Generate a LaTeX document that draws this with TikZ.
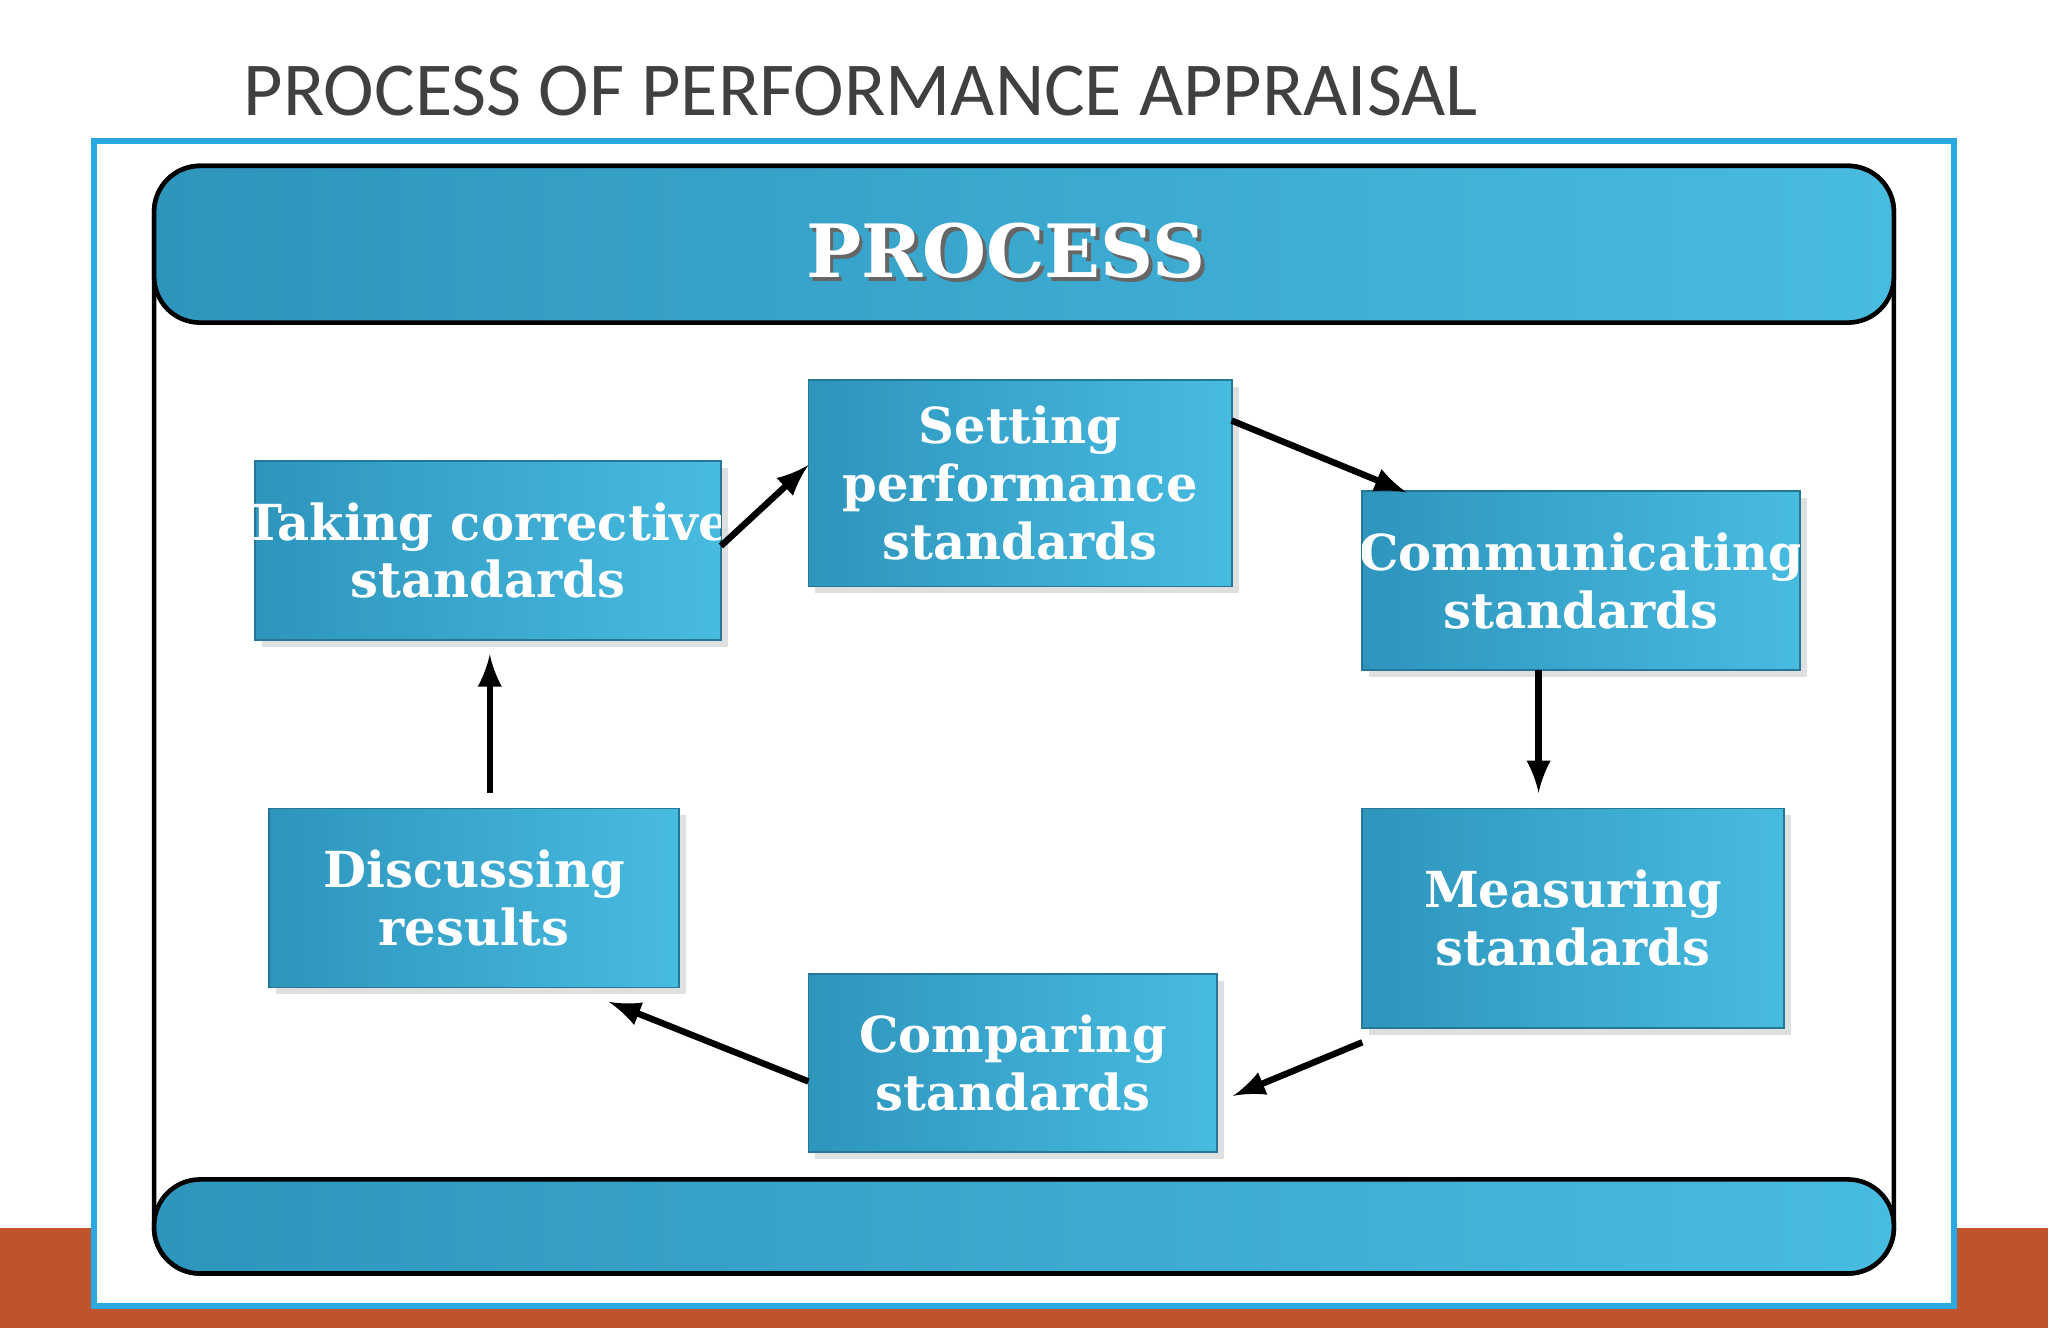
\documentclass[tikz,border=0pt]{standalone}
\usepackage{fontspec}
\setmainfont{Carlito}
\newfontfamily\slab{DejaVu Serif}
\usetikzlibrary{shadows,calc}
\definecolor{bbl}{HTML}{2E95BD}
\definecolor{bbr}{HTML}{48BBE0}
\definecolor{frameblue}{HTML}{2AA8E0}
\definecolor{orangebar}{HTML}{C0532A}
\tikzset{
  stepbox/.style={shade, left color=bbl, right color=bbr, draw=bbl!80!black, line width=0.4pt, drop shadow={opacity=0.25, shadow xshift=1.5pt, shadow yshift=-1.5pt}},
  boxtext/.style={text=white, font=\slab\bfseries\fontsize{10.8}{12.6}\selectfont, align=center},
  arr/.style={-latex, line width=1.4pt, black},
}
\begin{document}
\begin{tikzpicture}[x=0.01cm,y=-0.01cm]
\useasboundingbox (0,0) rectangle (1568,1017);
\fill[white] (0,0) rectangle (1568,1017);
\fill[orangebar] (0,940) rectangle (1568,1017);
\node[anchor=west, text=black!75, font=\fontsize{16.6}{19}\selectfont, inner sep=0] (title) at (186,70) {PROCESS OF PERFORMANCE APPRAISAL};
\draw[frameblue, line width=1.3pt, fill=white] (72,108) rectangle (1496,1000);
% inner box
\draw[line width=1pt, rounded corners=10] (118,127) rectangle (1450,975);
\shade[left color=bbl, right color=bbr, rounded corners=10] (118,127) rectangle (1450,247);
\draw[line width=1pt, rounded corners=10] (118,127) rectangle (1450,247);
\shade[left color=bbl, right color=bbr, rounded corners=10] (118,903) rectangle (1450,975);
\draw[line width=1pt, rounded corners=10] (118,903) rectangle (1450,975);
\node[text=black!60, font=\slab\bfseries\fontsize{16}{18}\selectfont] at (773,195) {PROCESS};
\node[text=white, font=\slab\bfseries\fontsize{16}{18}\selectfont] (hdr) at (770,192) {PROCESS};
% boxes
\newcommand{\stepnode}[6]{%
  \fill[stepbox] (#1,#2) rectangle (#3,#4);
  \begin{scope}
  \clip (#1,#2) rectangle (#3,#4);
  \node[boxtext] (#5) at ({(#1+#3)/2},{(#2+#4)/2}) {#6};
  \end{scope}
  \path (#1,#2) coordinate (#5-nw) (#3,#4) coordinate (#5-se);
}
\stepnode{619}{291}{943}{449}{set}{Setting\\performance\\standards}
\stepnode{1043}{376}{1378}{513}{com}{Communicating\\standards}
\stepnode{1043}{619}{1366}{787}{mea}{Measuring\\standards}
\stepnode{619}{746}{932}{882}{cmp}{Comparing\\standards}
\stepnode{206}{619}{520}{756}{dis}{Discussing\\results}
\stepnode{195}{353}{552}{490}{tak}{Taking corrective\\standards}
% arrows
\coordinate (a1s) at (552,418); \coordinate (a1e) at (619,356);
\coordinate (a2s) at (943,322); \coordinate (a2e) at (1077,377);
\coordinate (a3s) at (1178,513); \coordinate (a3e) at (1178,607);
\coordinate (a4s) at (1043,798); \coordinate (a4e) at (944,839);
\coordinate (a5s) at (619,828); \coordinate (a5e) at (466,767);
\coordinate (a6s) at (375,607); \coordinate (a6e) at (375,501);
\draw[arr] (a1s) -- (a1e);
\draw[arr] (a2s) -- (a2e);
\draw[arr] (a3s) -- (a3e);
\draw[arr] (a4s) -- (a4e);
\draw[arr] (a5s) -- (a5e);
\draw[arr] (a6s) -- (a6e);
\end{tikzpicture}
\end{document}
